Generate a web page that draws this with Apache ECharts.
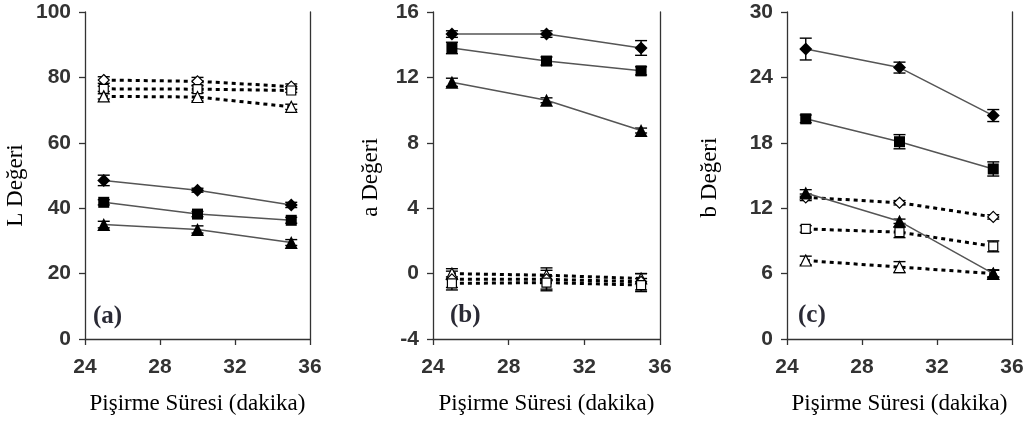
<!DOCTYPE html>
<html>
<head>
<meta charset="utf-8">
<script src="https://cdn.jsdelivr.net/npm/echarts@6/dist/echarts.min.js"></script>
<style>
  html, body { margin: 0; padding: 0; background: #fff; }
  #chart { width: 1027px; height: 425px; }
</style>
</head>
<body>
<div id="chart"></div>
<script>
// pişirme süresi (dakika)
var minutes = [25, 30, 35];

// (a) L değeri
var lDiamond = [48.5, 45.5, 41.0];
var lSquare = [41.8, 38.2, 36.3];
var lTriangle = [35.0, 33.5, 29.5];
var lDiamondOpen = [79.2, 78.8, 77.2];
var lSquareOpen = [76.5, 76.4, 76.0];
var lTriangleOpen = [74.2, 74.0, 71.0];
var lDiamondErr = [1.6, 0.6, 0.8];
var lSquareErr = [0.8, 0.8, 0.9];
var lTriangleErr = [1.0, 1.1, 0.9];
var lDiamondOpenErr = [1.0, 1.2, 0.8];
var lSquareOpenErr = [0.8, 1.0, 0.6];
var lTriangleOpenErr = [0.8, 1.2, 0.8];

// (b) a değeri
var aDiamond = [14.65, 14.65, 13.8];
var aSquare = [13.8, 13.0, 12.4];
var aTriangle = [11.7, 10.6, 8.75];
var aTriangleOpen = [0.0, -0.1, -0.3];
var aDiamondOpen = [-0.35, -0.35, -0.5];
var aSquareOpen = [-0.6, -0.55, -0.7];
var aDiamondErr = [0.2, 0.2, 0.45];
var aSquareErr = [0.35, 0.25, 0.25];
var aTriangleErr = [0.25, 0.15, 0.15];
var aTriangleOpenErr = [0.3, 0.3, 0.3];
var aDiamondOpenErr = [0.5, 0.7, 0.5];
var aSquareOpenErr = [0.4, 0.4, 0.4];

// (c) b değeri
var bDiamond = [26.6, 24.9, 20.5];
var bSquare = [20.2, 18.1, 15.6];
var bTriangle = [13.4, 10.8, 6.0];
var bDiamondOpen = [13.0, 12.5, 11.2];
var bSquareOpen = [10.1, 9.8, 8.5];
var bTriangleOpen = [7.2, 6.6, 6.0];
var bDiamondErr = [1.0, 0.5, 0.55];
var bSquareErr = [0.35, 0.65, 0.65];
var bTriangleErr = [0.3, 0.2, 0.35];
var bDiamondOpenErr = [0.3, 0.2, 0.2];
var bSquareOpenErr = [0.3, 0.5, 0.5];
var bTriangleOpenErr = [0.4, 0.5, 0.3];

var xTitle = 'Pişirme Süresi (dakika)';
var panels = [
  { tag: '(a)', name: 'L Değeri', min: 0, max: 100, step: 20,
    solid: [[lDiamond, lDiamondErr, 'diamond'], [lSquare, lSquareErr, 'rect'], [lTriangle, lTriangleErr, 'triangle']],
    open: [[lDiamondOpen, lDiamondOpenErr, 'diamond'], [lSquareOpen, lSquareOpenErr, 'rect'], [lTriangleOpen, lTriangleOpenErr, 'triangle']] },
  { tag: '(b)', name: 'a Değeri', min: -4, max: 16, step: 4,
    solid: [[aDiamond, aDiamondErr, 'diamond'], [aSquare, aSquareErr, 'rect'], [aTriangle, aTriangleErr, 'triangle']],
    open: [[aTriangleOpen, aTriangleOpenErr, 'triangle'], [aDiamondOpen, aDiamondOpenErr, 'diamond'], [aSquareOpen, aSquareOpenErr, 'rect']] },
  { tag: '(c)', name: 'b Değeri', min: 0, max: 30, step: 6,
    solid: [[bDiamond, bDiamondErr, 'diamond'], [bSquare, bSquareErr, 'rect'], [bTriangle, bTriangleErr, 'triangle']],
    open: [[bDiamondOpen, bDiamondOpenErr, 'diamond'], [bSquareOpen, bSquareOpenErr, 'rect'], [bTriangleOpen, bTriangleOpenErr, 'triangle']] }
];

var grids = [
  { left: 85, top: 12, width: 225, height: 327 },
  { left: 433, top: 12, width: 227, height: 327 },
  { left: 787, top: 12, width: 225, height: 327 }
];
var nameGaps = [58, 51, 66];
var namePads = [[0, 20, 0, 0], [0, 4, 0, 0], [0, 4, 0, 0]];
var tagPos = [[93, 304], [450, 303], [798, 303]];

var axisColor = '#333';
var labelFont = { color: '#333', fontSize: 21, fontWeight: 'bold', fontFamily: 'Liberation Sans, Arial, sans-serif' };
var serif = 'Liberation Serif, Times New Roman, serif';

function errRender(params, api) {
  var x = api.value(0);
  var lo = api.coord([x, api.value(1)]);
  var hi = api.coord([x, api.value(2)]);
  var w = 6;
  var st = { stroke: '#000', lineWidth: 1.4 };
  return {
    type: 'group',
    children: [
      { type: 'line', shape: { x1: lo[0], y1: lo[1], x2: hi[0], y2: hi[1] }, style: st },
      { type: 'line', shape: { x1: lo[0] - w, y1: lo[1], x2: lo[0] + w, y2: lo[1] }, style: st },
      { type: 'line', shape: { x1: hi[0] - w, y1: hi[1], x2: hi[0] + w, y2: hi[1] }, style: st }
    ]
  };
}

var xAxes = [], yAxes = [], series = [], graphics = [];
panels.forEach(function (p, i) {
  xAxes.push({
    type: 'value', gridIndex: i, min: 24, max: 36, interval: 4,
    name: xTitle, nameLocation: 'middle', nameGap: 53,
    nameTextStyle: { fontFamily: serif, fontSize: 23, color: '#000' },
    axisLine: { show: true, onZero: false, lineStyle: { color: axisColor, width: 1.3 } },
    axisTick: { show: true, inside: false, length: 6, lineStyle: { color: axisColor, width: 1.3 } },
    axisLabel: Object.assign({ margin: 18 }, labelFont),
    splitLine: { show: false }
  });
  yAxes.push({
    type: 'value', gridIndex: i, min: p.min, max: p.max, interval: p.step,
    name: p.name, nameLocation: 'middle', nameGap: nameGaps[i],
    nameTextStyle: { fontFamily: serif, fontSize: 23, color: '#000', padding: namePads[i] },
    axisLine: { show: true, onZero: false, lineStyle: { color: axisColor, width: 1.3 } },
    axisTick: { show: true, inside: false, length: 6, lineStyle: { color: axisColor, width: 1.3 } },
    axisLabel: Object.assign({ margin: 14 }, labelFont),
    splitLine: { show: false }
  });
  yAxes.push({
    type: 'value', gridIndex: i, position: 'right', min: p.min, max: p.max, interval: p.step,
    axisLine: { show: true, onZero: false, lineStyle: { color: axisColor, width: 1.3 } },
    axisTick: { show: false }, axisLabel: { show: false }, splitLine: { show: false }
  });
  var yIdx = i * 2;
  function addSet(list, open) {
    list.forEach(function (s) {
      var vals = s[0], errs = s[1], sym = s[2];
      series.push({
        type: 'custom', xAxisIndex: i, yAxisIndex: yIdx, z: 2,
        renderItem: errRender,
        data: minutes.map(function (m, k) { return [m, vals[k] - errs[k], vals[k] + errs[k]]; })
      });
      series.push({
        type: 'line', xAxisIndex: i, yAxisIndex: yIdx, z: 3,
        data: minutes.map(function (m, k) { return [m, vals[k]]; }),
        symbol: sym,
        symbolSize: open ? (sym === 'rect' ? 9 : 11) : (sym === 'rect' ? 11 : 13),
        itemStyle: open ? { color: '#fff', borderColor: '#000', borderWidth: 1.2 } : { color: '#000', borderColor: '#000', borderWidth: 0 },
        lineStyle: open ? { color: '#000', width: 3, type: [4, 4] } : { color: '#555', width: 1.5 },
        animation: false
      });
    });
  }
  addSet(p.open, true);
  addSet(p.solid, false);
  graphics.push({
    type: 'text', left: tagPos[i][0], top: tagPos[i][1],
    style: { text: p.tag, font: 'bold 25px ' + serif, fill: '#2a2a35' }
  });
});

var chart = echarts.init(document.getElementById('chart'));
chart.setOption({
  animation: false,
  backgroundColor: '#fff',
  grid: grids,
  xAxis: xAxes,
  yAxis: yAxes,
  series: series,
  graphic: graphics
});
</script>
</body>
</html>
